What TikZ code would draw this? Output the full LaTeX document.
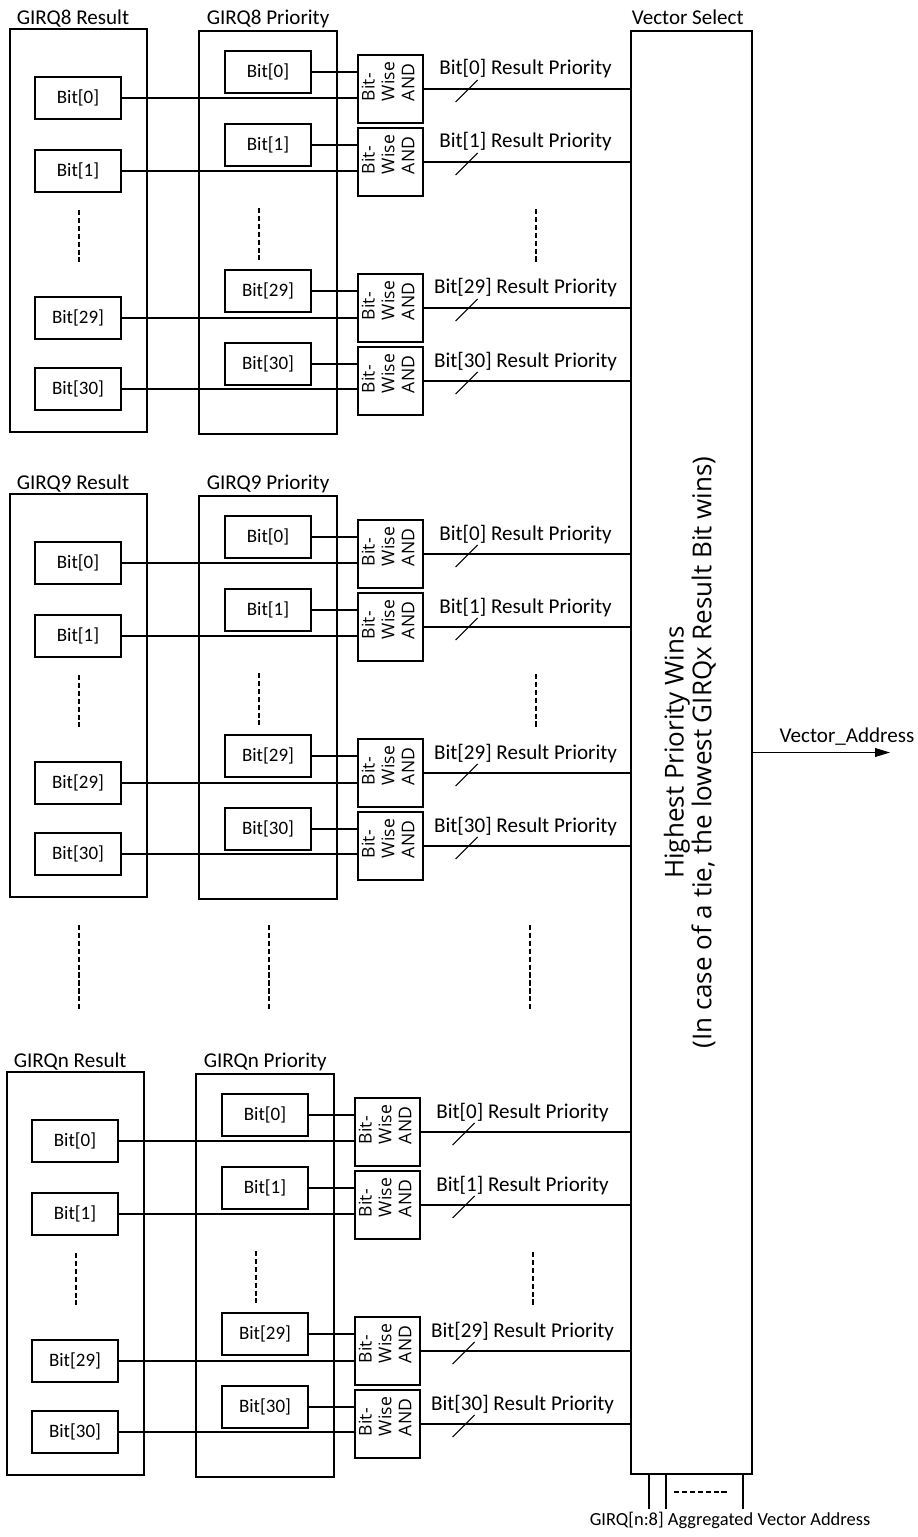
\documentclass[tikz,border=0pt]{standalone}
\usepackage{fontspec}
\setmainfont{Carlito}
\newfontfamily\gatefont{Open Sans}
\usetikzlibrary{positioning,arrows.meta,calc}

\def\px{0.02cm}
\tikzset{
  wire/.style={line width=0.6pt},
  dots/.style={line width=0.6pt, dash pattern=on 3pt off 1.5pt},
  grpbox/.style={draw, line width=0.6pt, inner sep=0pt},
  grplbl/.style={font=\fontsize{12}{14}\selectfont, anchor=base west, inner sep=0pt},
  bitbox/.style={draw, line width=0.6pt, inner sep=0pt,
    minimum width=86*\px, minimum height=42*\px, font=\fontsize{10.8}{12}\selectfont},
  andbox/.style={draw, line width=0.6pt, inner sep=0pt,
    minimum width=65*\px, minimum height=68*\px, font=\gatefont\fontsize{10}{11.3}\selectfont},
  prilbl/.style={font=\fontsize{12}{14}\selectfont, anchor=base, inner sep=0pt},
}
\newcommand{\andtext}{\rotatebox{90}{\hspace{8.5pt}\begin{tabular}{@{}l@{}}Bit-\\Wise\\AND\end{tabular}}}

% one GIRQ block: #1 name, #2 y offset, #3 x offset
\newcommand{\girqgroup}[3]{%
  \node[grpbox, minimum width=137*\px, minimum height=403*\px] (res-#1) at (#3+78.5,#2+230.5) {};
  \node[grpbox, minimum width=138*\px, minimum height=403*\px] (pri-#1) at (#3+268,#2+232.5) {};
  \node[grplbl] at ([shift={(7,-4)}]res-#1.north west) {GIRQ#1 Result};
  \node[grplbl] at ([shift={(8,-6)}]pri-#1.north west) {GIRQ#1 Priority};
  \foreach \k/\ry/\py/\gy in {0/98/72/89, 1/171/145/162, 29/318/291/308, 30/389/364/381} {
    \node[bitbox] (r-#1-\k) at (#3+78,#2+\ry) {Bit[\k]};
    \node[bitbox] (p-#1-\k) at (#3+268,#2+\py) {Bit[\k]};
    \node[andbox] (g-#1-\k) at (#3+390.5,#2+\gy) {\andtext};
    \draw[wire] (p-#1-\k.east) -- (p-#1-\k.east -| g-#1-\k.west);
    \draw[wire] (r-#1-\k.east) -- (r-#1-\k.east -| g-#1-\k.west);
    \draw[wire] (g-#1-\k.east) -- (g-#1-\k.east -| vs.west);
    \draw[wire] ($(g-#1-\k.east)+(32,13)$) -- ++(22,-22);
    \node[prilbl] (l-#1-\k) at ($(g-#1-\k.east)+(102,-14)$) {Bit[\k] Result Priority};
  }
  % skipped bits
  \draw[dots] (#3+79,#2+210) -- (#3+79,#2+262);
  \draw[dots] (#3+259,#2+208) -- (#3+259,#2+260);
  \draw[dots] (#3+536,#2+209) -- (#3+536,#2+262);
}

\begin{document}
\begin{tikzpicture}[x=\px, y=-\px]
\useasboundingbox (0,0) rectangle (918,1537);

% Vector select
\node[grpbox, minimum width=121*\px, minimum height=1443*\px,
  font=\gatefont\fontsize{14.8}{14.6}\selectfont] (vs) at (691.5,752.5)
  {\rotatebox{90}{\begin{tabular}{@{}c@{}}Highest Priority Wins\\(In case of a tie, the lowest GIRQx Result Bit wins)\end{tabular}}};
\node[grplbl] at ([shift={(1,-6)}]vs.north west) {Vector Select};

% GIRQ blocks
\girqgroup{8}{0}{0}
\girqgroup{9}{465}{0}
\girqgroup{n}{1043}{-3}

% skipped blocks
\draw[dots] (79,925) -- (79,1010);
\draw[dots] (269,925) -- (269,1010);
\draw[dots] (530,925) -- (530,1010);

% Output
\coordinate (va) at (890,752.5);
\draw[wire, -{Triangle[length=8.5pt,width=5pt]}] (vs.east) -- (va);
\node[prilbl] (va-lbl) at (847,742) {Vector\_Address};

% Aggregated bus
\coordinate (bus-0) at (649,1509);
\coordinate (bus-1) at (666,1509);
\coordinate (bus-2) at (743,1509);
\foreach \c in {0,1,2}
  \draw[wire] (vs.south -| bus-\c) -- (bus-\c);
\draw[line width=0.9pt, dash pattern=on 3pt off 1.5pt] (674,1492) -- (727,1492);
\node[font=\fontsize{10.5}{12}\selectfont, anchor=north, inner sep=0pt] (bus-lbl)
  at (730,1512) {GIRQ[n:8] Aggregated Vector Address};

\end{tikzpicture}
\end{document}
